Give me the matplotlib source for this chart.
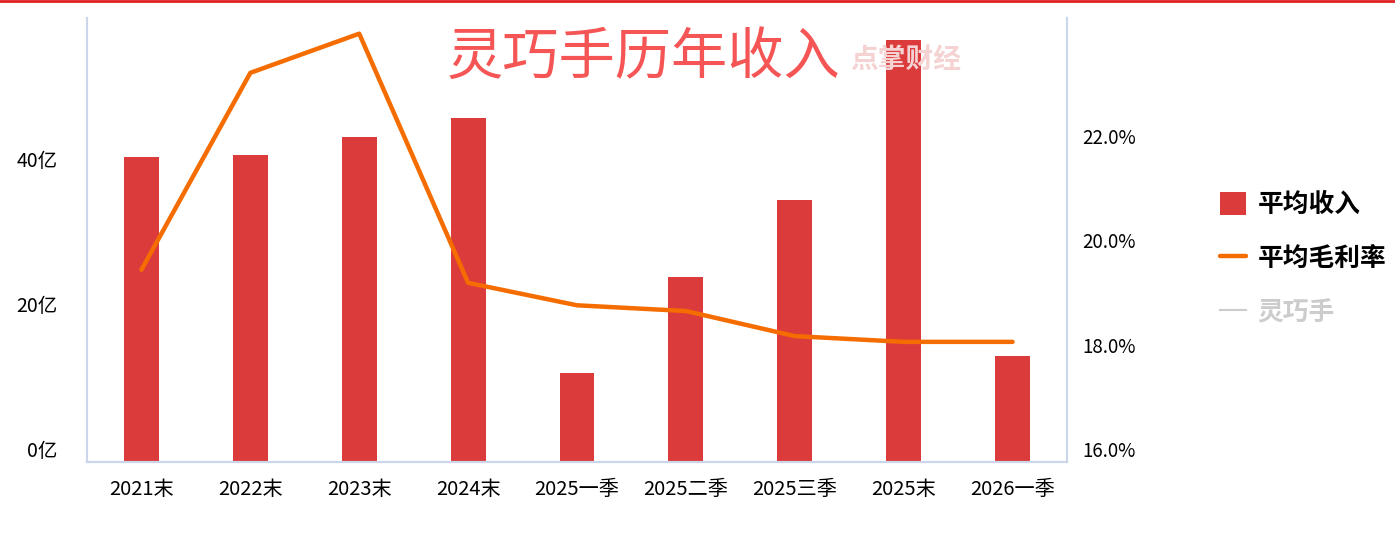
import matplotlib.pyplot as plt
from matplotlib.lines import Line2D

plt.rcParams['font.family'] = ['Noto Sans CJK SC', 'DejaVu Sans']

periods = ['2021末', '2022末', '2023末', '2024末', '2025一季', '2025二季', '2025三季', '2025末', '2026一季']
revenue = [42.1, 42.3, 44.8, 47.4, 12.3, 25.5, 36.1, 58.1, 14.6]   # 亿
margin = [19.68, 23.45, 24.2, 19.43, 19.0, 18.89, 18.41, 18.3, 18.3]  # %

left_ticks = [0, 20, 40]
right_ticks = [16, 18, 20, 22]

axis_col = '#ccd6eb'

fig = plt.figure(figsize=(13.95, 5.34), dpi=100)
ax = fig.add_axes([87 / 1395, 72 / 534, 980 / 1395, 444 / 534])
ax.patch.set_alpha(0)

# top red strip
fig.add_artist(Line2D([0, 1], [0.999, 0.999], color='#e02020', lw=2, transform=fig.transFigure))

# faint watermark behind bars
fig.text(850 / 1395, 1 - 60 / 534, '点掌财经', fontsize=20, color='#f5d3d3', fontweight='bold',
         ha='left', va='center', zorder=0)

x = range(len(periods))
ax.bar(x, revenue, width=0.32, color='#dc3b3b', zorder=2, label='平均收入')
ax.set_xlim(-0.5, len(periods) - 0.5)
ax.set_ylim(0, 61.2)
ax.set_yticks(left_ticks)
ax.set_yticklabels([f'{v}亿' for v in left_ticks], fontsize=14)
plt.setp(ax.get_yticklabels(), va='bottom')
ax.set_xticks(list(x))
ax.set_xticklabels(periods, fontsize=14.5)
ax.tick_params(axis='y', length=0, pad=21)
ax.tick_params(axis='x', length=0, pad=12)

ax2 = ax.twinx()
ax2.plot(x, margin, color='#f56c00', lw=3.2, solid_capstyle='round', zorder=3, label='平均毛利率')
ax2.plot([], [], color='#cccccc', lw=1.5, label='灵巧手')
ax2.set_ylim(16, 24.5)
ax2.set_yticks(right_ticks)
ax2.set_yticklabels([f'{v:.1f}%' for v in right_ticks], fontsize=13.5)
plt.setp(ax2.get_yticklabels(), va='bottom')
ax2.tick_params(axis='y', length=0, pad=11)

for a in (ax, ax2):
    a.spines['top'].set_visible(False)
    for s in ('left', 'right', 'bottom'):
        a.spines[s].set_color(axis_col)
        a.spines[s].set_linewidth(1.5)

fig.text(644 / 1395, 1 - 58 / 534, '灵巧手历年收入', fontsize=40.5, color='#f55555',
         ha='center', va='center')

h1, l1 = ax.get_legend_handles_labels()
h2, l2 = ax2.get_legend_handles_labels()
leg = fig.legend(h1 + h2, l1 + l2, loc='upper left', bbox_to_anchor=(1197 / 1395, 1 - 168 / 534),
                 frameon=False, prop={'size': 18.5, 'weight': 'bold'},
                 handlelength=1.0, handleheight=1.0, handletextpad=0.45, labelspacing=1.05)
for t in leg.get_texts():
    t.set_color('black')
leg.get_texts()[2].set_color('#cccccc')

fig.savefig('out.png', dpi=100)
